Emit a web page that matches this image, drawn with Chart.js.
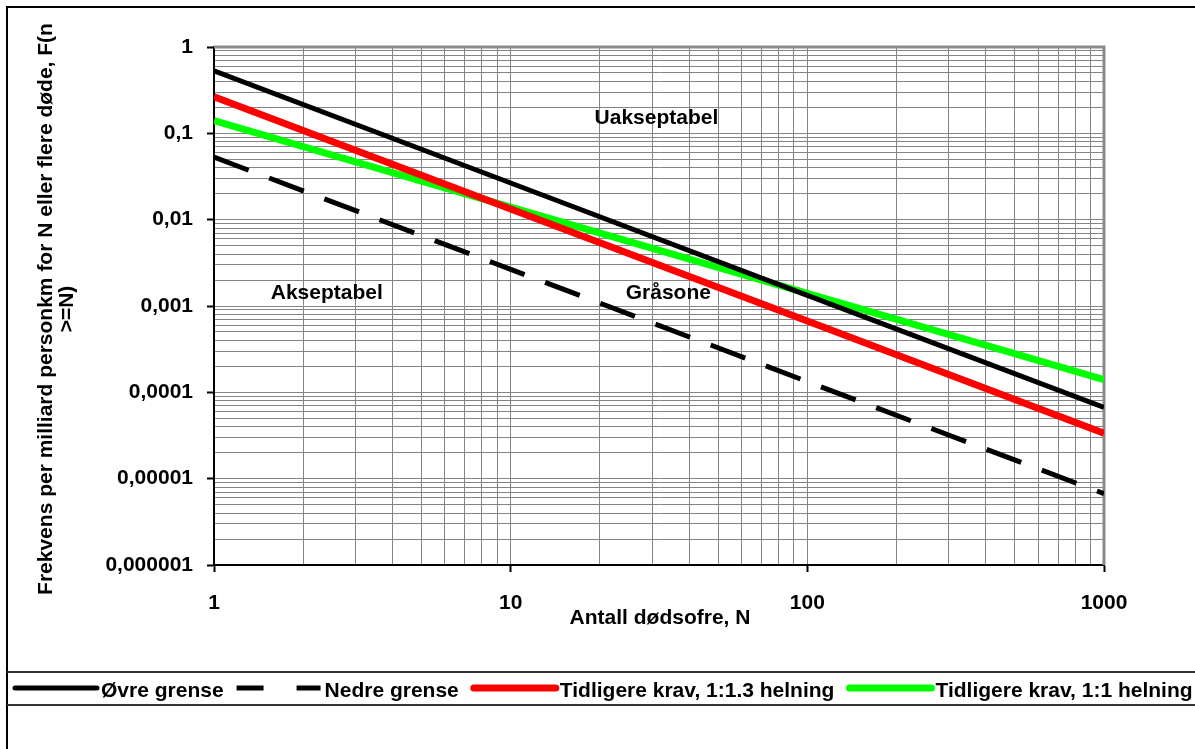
<!DOCTYPE html>
<html>
<head>
<meta charset="utf-8">
<script src="https://cdn.jsdelivr.net/npm/chart.js@4/dist/chart.umd.min.js"></script>
<style>
  html, body { margin: 0; padding: 0; background: #fff; }
  #wrap { width: 1195px; height: 749px; }
</style>
</head>
<body>
<div id="wrap"><canvas id="fnChart" width="1195" height="749"></canvas></div>
<script>
const FONT = '"Liberation Sans", Arial, sans-serif';

// F-N kurver, lest av bildet (log-log)
const nValues = [1, 10, 100, 1000];
const ovreGrense = [0.53, 0.0266, 0.00133, 0.000067];
const nedreGrense = [0.053, 0.00266, 0.000133, 0.0000067];
const krav13 = [0.265, 0.0133, 0.00067, 0.0000335];
const krav11 = [0.14, 0.014, 0.0014, 0.00014];

const seriesLabels = [
  "Øvre grense",
  "Nedre grense",
  "Tidligere krav, 1:1.3 helning",
  "Tidligere krav, 1:1 helning",
];

const xMajorTicks = [1, 10, 100, 1000];
const xTickLabels = ["1", "10", "100", "1000"];
const yMajorTicks = [0.000001, 0.00001, 0.0001, 0.001, 0.01, 0.1, 1];
const yTickLabels = ["0,000001", "0,00001", "0,0001", "0,001", "0,01", "0,1", "1"];

const zoneLabels = ["Uakseptabel", "Akseptabel", "Gråsone"];
const zoneN = [31, 2.4, 34];
const zoneF = [0.15, 0.0014, 0.0014];

const xTitle = "Antall dødsofre, N";
const yTitle = ["Frekvens per milliard personkm for N eller flere døde, F(n", ">=N)"];

// 1,2,...,9 per dekade -> rutenett
function logTicks(majors) {
  const out = [];
  majors.forEach((m, i) => {
    if (i === majors.length - 1) { out.push({ value: m, major: true }); return; }
    for (let k = 1; k <= 9; k++) out.push({ value: m * k, major: k === 1 });
  });
  return out;
}

function labelFor(value, majors, labels) {
  const i = majors.findIndex((m) => Math.abs(Math.log10(m) - Math.log10(value)) < 1e-6);
  return i >= 0 ? labels[i] : "";
}

function points(ys) {
  return nValues.map((n, i) => ({ x: n, y: ys[i] }));
}

const boldFont = { family: FONT, size: 21, weight: "bold" };

const gridOpts = {
  color: "#848484",
  lineWidth: 1,
  tickLength: 7,
  tickWidth: 2,
  tickColor: (c) => (c.tick && c.tick.major ? "#000" : "rgba(0,0,0,0)"),
};

const decorPlugin = {
  id: "decor",
  beforeDatasetsDraw(chart) {
    const { ctx, chartArea: a } = chart;
    ctx.save();
    ctx.strokeStyle = "#8a8a8a";
    ctx.lineWidth = 3;
    ctx.beginPath();
    ctx.moveTo(a.left, a.top);
    ctx.lineTo(a.right, a.top);
    ctx.lineTo(a.right, a.bottom);
    ctx.stroke();
    ctx.restore();
  },
  afterDraw(chart) {
    const { ctx, scales } = chart;
    ctx.save();
    ctx.fillStyle = "#000";
    ctx.font = `bold 21px ${FONT}`;
    ctx.textBaseline = "middle";

    // soner
    ctx.textAlign = "center";
    zoneLabels.forEach((t, i) => {
      ctx.fillText(t, scales.x.getPixelForValue(zoneN[i]), scales.y.getPixelForValue(zoneF[i]));
    });

    // aksetitler
    ctx.fillText(xTitle, 660, 618);
    const yc = (chart.chartArea.top + chart.chartArea.bottom) / 2 + 3;
    [46, 67].forEach((x, i) => {
      ctx.save();
      ctx.translate(x, yc);
      ctx.rotate(-Math.PI / 2);
      ctx.fillText(yTitle[i], 0, 0);
      ctx.restore();
    });

    // ytre ramme
    ctx.strokeStyle = "#000";
    ctx.lineWidth = 2;
    ctx.beginPath();
    ctx.moveTo(7, 749);
    ctx.lineTo(7, 7);
    ctx.lineTo(1195, 7);
    ctx.stroke();

    // tegnforklaring
    ctx.strokeStyle = "#333";
    ctx.lineWidth = 2;
    ctx.beginPath();
    ctx.moveTo(7, 672); ctx.lineTo(1195, 672);
    ctx.moveTo(7, 705); ctx.lineTo(1195, 705);
    ctx.stroke();

    ctx.textAlign = "left";
    let x = 13;
    const ly = 688;
    chart.data.datasets.forEach((ds) => {
      ctx.save();
      ctx.strokeStyle = ds.borderColor;
      ctx.lineWidth = ds.borderWidth;
      const dashed = ds.borderDash && ds.borderDash.length;
      ctx.lineCap = dashed ? "butt" : "round";
      ctx.setLineDash(dashed ? [27, 33] : []);
      ctx.beginPath();
      ctx.moveTo(x + (dashed ? 0 : 2), ly);
      ctx.lineTo(x + 84, ly);
      ctx.stroke();
      ctx.restore();
      x += 88;
      ctx.fillText(ds.label, x, ly + 3);
      x += ctx.measureText(ds.label).width + 13;
    });
    ctx.restore();
  },
};

new Chart(document.getElementById("fnChart"), {
  type: "line",
  data: {
    datasets: [
      { label: seriesLabels[0], data: points(ovreGrense), borderColor: "#000000", borderWidth: 5 },
      { label: seriesLabels[1], data: points(nedreGrense), borderColor: "#000000", borderWidth: 5, borderDash: [37, 22] },
      { label: seriesLabels[2], data: points(krav13), borderColor: "#ff0000", borderWidth: 7 },
      { label: seriesLabels[3], data: points(krav11), borderColor: "#00ff00", borderWidth: 7 },
    ].map((d) => ({ ...d, pointRadius: 0, fill: false, tension: 0 })),
  },
  options: {
    responsive: false,
    animation: false,
    layout: { padding: { left: 0, top: 47, right: 91, bottom: 114 } },
    plugins: { legend: { display: false }, tooltip: { enabled: false } },
    scales: {
      x: {
        type: "logarithmic",
        min: 1,
        max: 1000,
        afterBuildTicks: (s) => { s.ticks = logTicks(xMajorTicks); },
        afterFit: (s) => { s.height = 70; },
        grid: gridOpts,
        border: { display: true, color: "#000", width: 2 },
        ticks: {
          autoSkip: false,
          maxRotation: 0,
          padding: 19,
          color: "#000",
          font: boldFont,
          callback: (v) => labelFor(v, xMajorTicks, xTickLabels),
        },
      },
      y: {
        type: "logarithmic",
        min: 0.000001,
        max: 1,
        afterBuildTicks: (s) => { s.ticks = logTicks(yMajorTicks); },
        afterFit: (s) => { s.width = 214; },
        grid: gridOpts,
        border: { display: true, color: "#000", width: 2 },
        ticks: {
          autoSkip: false,
          padding: 14,
          color: "#000",
          font: boldFont,
          callback: (v) => labelFor(v, yMajorTicks, yTickLabels),
        },
      },
    },
  },
  plugins: [decorPlugin],
});
</script>
</body>
</html>
